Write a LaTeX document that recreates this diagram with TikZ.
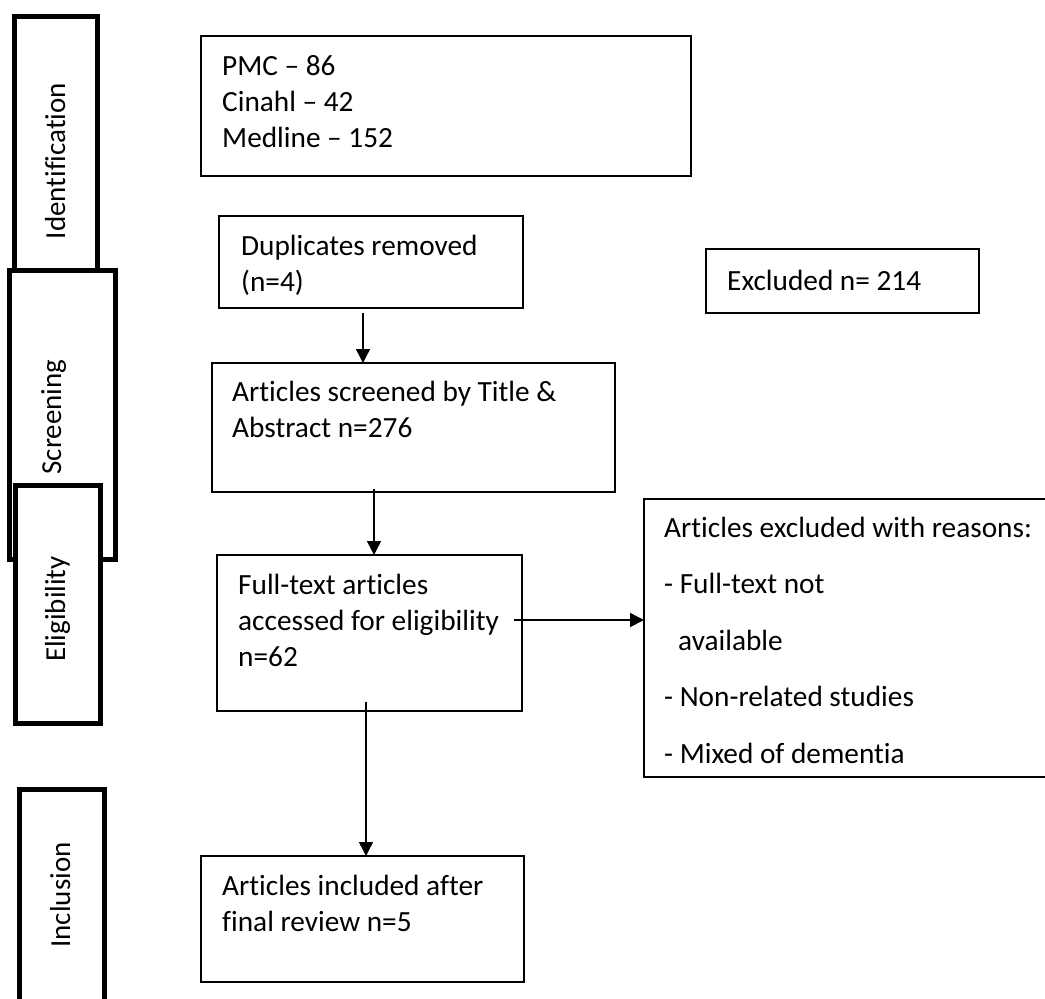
\documentclass[tikz,border=0pt]{standalone}
\usepackage{fontspec}
\setmainfont{Carlito}[Ligatures=NoCommon]
\usetikzlibrary{arrows.meta}
\newcommand{\tl}[1]{\begin{tabular}[t]{@{}l@{}}#1\end{tabular}}
\begin{document}
\begin{tikzpicture}[x=1pt,y=-1pt,
  flowbox/.style={draw=black,line width=1.5pt,fill=white,inner sep=0pt,outer sep=0pt,anchor=north west},
  stagebox/.style={draw=black,line width=5pt,fill=white,inner sep=0pt,outer sep=0pt},
  txt/.style={inner sep=0pt,anchor=base west,font=\fontsize{29.3}{36}\selectfont},
  stagetxt/.style={inner sep=0pt,anchor=base,rotate=90,font=\fontsize{29}{36}\selectfont},
  arr/.style={line width=1.5pt,-{Triangle[length=14pt,width=14pt]}}]
\useasboundingbox (0,0) rectangle (1045,999);
\clip (0,0) rectangle (1045,999);
% stage boxes
\node[stagebox,minimum width=83pt,minimum height=283.5pt] (ident) at (56,158.25) {};
\node[stagebox,minimum width=106pt,minimum height=289pt] (scrn) at (62.5,415) {};
\node[stagebox,minimum width=85pt,minimum height=238pt] (elig) at (58,604.5) {};
\node[stagebox,minimum width=85pt,minimum height=230.5pt] (incl) at (62,904.75) {};
\node[stagetxt] (identT) at (65,161) {Identification};
\node[stagetxt] (scrnT) at (61,417) {Screening};
\node[stagetxt] (eligT) at (65,609) {Eligibility};
\node[stagetxt] (inclT) at (70,895) {Inclusion};
% flow boxes
\node[flowbox,minimum width=490pt,minimum height=140pt] (src) at (201,36) {};
\node[flowbox,minimum width=304pt,minimum height=92pt] (dup) at (219,216) {};
\node[flowbox,minimum width=403pt,minimum height=129pt] (scr) at (212,363) {};
\node[flowbox,minimum width=305pt,minimum height=156pt] (ft) at (217,555) {};
\node[flowbox,minimum width=323pt,minimum height=126pt] (inc) at (201,856) {};
\node[flowbox,minimum width=273pt,minimum height=64pt] (exd) at (706,249) {};
\node[flowbox,minimum width=420pt,minimum height=278pt] (excl) at (644,499) {};
% texts
\node[txt] (srcT) at (222,75) {\tl{PMC – 86\\Cinahl – 42\\Medline – 152}};
\node[txt] (dupT) at (241,255) {\tl{Duplicates removed\\(n=4)}};
\node[txt] (scrT) at (232,401) {\tl{Articles screened by Title \&\\Abstract n=276}};
\node[txt] (ftT) at (238,594) {\tl{Full-text articles\\accessed for eligibility\\n=62}};
\node[txt] (incT) at (222,895) {\tl{Articles included after\\final review n=5}};
\node[txt] (exdT) at (727,290) {Excluded n= 214};
\node[txt,font=\fontsize{29.3}{56.5}\selectfont] (exclT) at (664,537) {\tl{Articles excluded with reasons:\\- Full-text not\\\hspace{14pt}available\\- Non-related studies\\- Mixed of dementia}};
% connectors
\coordinate (a0) at (363,313);
\coordinate (a1) at (374,489);
\coordinate (a2) at (514,620);
\coordinate (a3) at (366,702);
\draw[arr] (a0) -- (a0 |- scr.north);
\draw[arr] (a1) -- (a1 |- ft.north);
\draw[arr] (a2) -- (a2 -| excl.west);
\draw[arr] (a3) -- (a3 |- inc.north);
\end{tikzpicture}
\end{document}
